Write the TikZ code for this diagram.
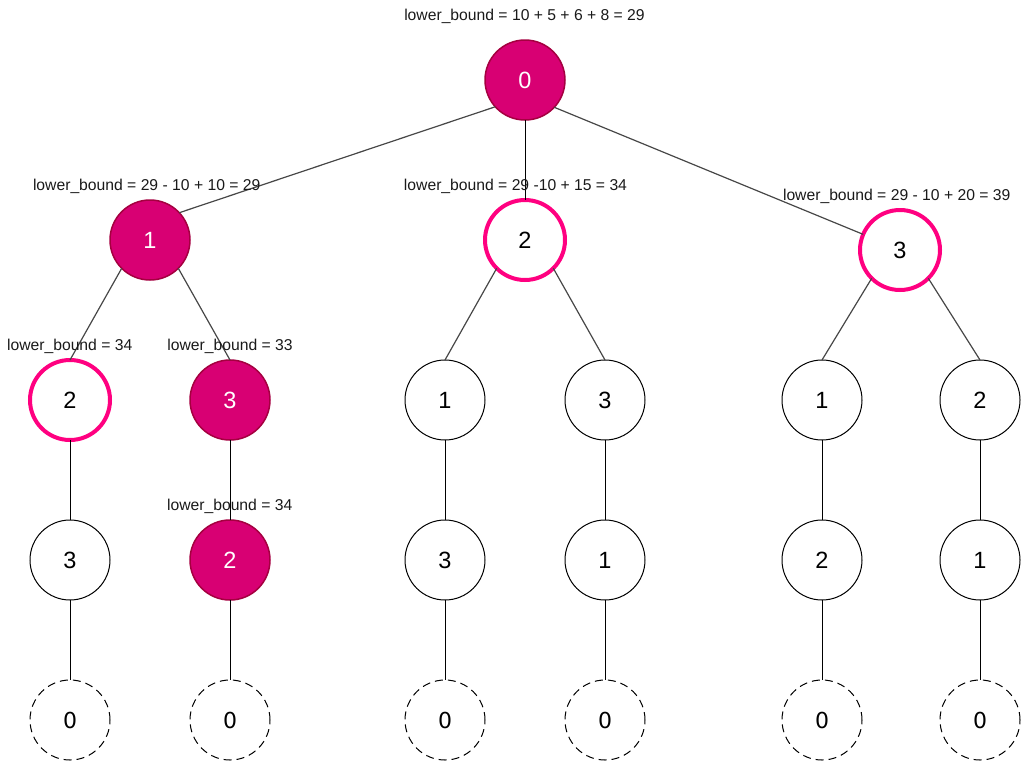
\documentclass[tikz,border=0pt]{standalone}
\usepackage{fontspec}
\setmainfont{Liberation Sans}
\newfontfamily\leaffont{DejaVu Sans}
\definecolor{magfill}{HTML}{D80073}
\definecolor{magline}{HTML}{A50040}
\definecolor{hotpink}{HTML}{FF0080}
\definecolor{txt}{HTML}{1A1A1A}
\tikzset{
  vertex/.style={circle, minimum size=80pt, inner sep=0pt, outer sep=0pt,
    draw=black, line width=1pt, fill=white, font=\fontsize{23.5}{24}\selectfont, text=black},
  chosen/.style={vertex, fill=magfill, draw=magline, line width=1.5pt, text=white},
  bounded/.style={vertex, draw=hotpink, line width=4pt},
  leaf/.style={vertex, dashed, dash pattern=on 8pt off 5pt, font=\leaffont\fontsize{22}{22}\selectfont},
  bound/.style={anchor=base, inner sep=0pt, text=txt, font=\fontsize{15.7}{16}\selectfont},
  branch/.style={draw=black!72, line width=1.2pt},
  chain/.style={draw=black, line width=1pt}
}
\begin{document}
\begin{tikzpicture}[x=1pt, y=-1pt]
\useasboundingbox (0,0) rectangle (1025,761);

% tree nodes
\node[chosen]  (r)   at (525,80)  {0};
\node[chosen]  (a)   at (150,240) {1};
\node[bounded] (b)   at (525,240) {2};
\node[bounded] (c)   at (900,250) {3};

\node[bounded] (a1)  at (70,400)  {2};
\node[chosen]  (a2)  at (230,400) {3};
\node[vertex]  (b1)  at (445,400) {1};
\node[vertex]  (b2)  at (605,400) {3};
\node[vertex]  (c1)  at (822,400) {1};
\node[vertex]  (c2)  at (980,400) {2};

\node[vertex]  (a1x) at (70,560)  {3};
\node[chosen]  (a2x) at (230,560) {2};
\node[vertex]  (b1x) at (445,560) {3};
\node[vertex]  (b2x) at (605,560) {1};
\node[vertex]  (c1x) at (822,560) {2};
\node[vertex]  (c2x) at (980,560) {1};

\node[leaf]    (a1z) at (70,720)  {0};
\node[leaf]    (a2z) at (230,720) {0};
\node[leaf]    (b1z) at (445,720) {0};
\node[leaf]    (b2z) at (605,720) {0};
\node[leaf]    (c1z) at (822,720) {0};
\node[leaf]    (c2z) at (980,720) {0};

% edges
\draw[branch] (r.-138) -- (a.43);
\draw[chain]  (r.south) -- (b.north);
\draw[branch] (r.-43) -- (c.157);

\draw[branch] (a.-135) -- (a1.north);
\draw[branch] (a.-45) -- (a2.north);
\draw[branch] (b.-135) -- (b1.north);
\draw[branch] (b.-45) -- (b2.north);
\draw[branch] (c.-135) -- (c1.north);
\draw[branch] (c.-45) -- (c2.north);

\foreach \n in {a1,a2,b1,b2,c1,c2}{
  \draw[chain] (\n.south) -- (\n x.north);
  \draw[chain] (\n x.south) -- (\n z.north);
}

% bound labels
\node[bound] (l0)  at (524.5,20.7)  {lower\_bound = 10 + 5 + 6 + 8 = 29};
\node[bound] (l1)  at (146.7,190.7) {lower\_bound = 29 - 10 + 10 = 29};
\node[bound] (l2)  at (515.5,190.7) {lower\_bound = 29 -10 + 15 = 34};
\node[bound] (l3)  at (896.7,200.7) {lower\_bound = 29 - 10 + 20 = 39};
\node[bound] (l11) at (69.7,350.7)  {lower\_bound = 34};
\node[bound] (l12) at (230,350.7)   {lower\_bound = 33};
\node[bound] (l21) at (229.7,510.7) {lower\_bound = 34};
\end{tikzpicture}
\end{document}
